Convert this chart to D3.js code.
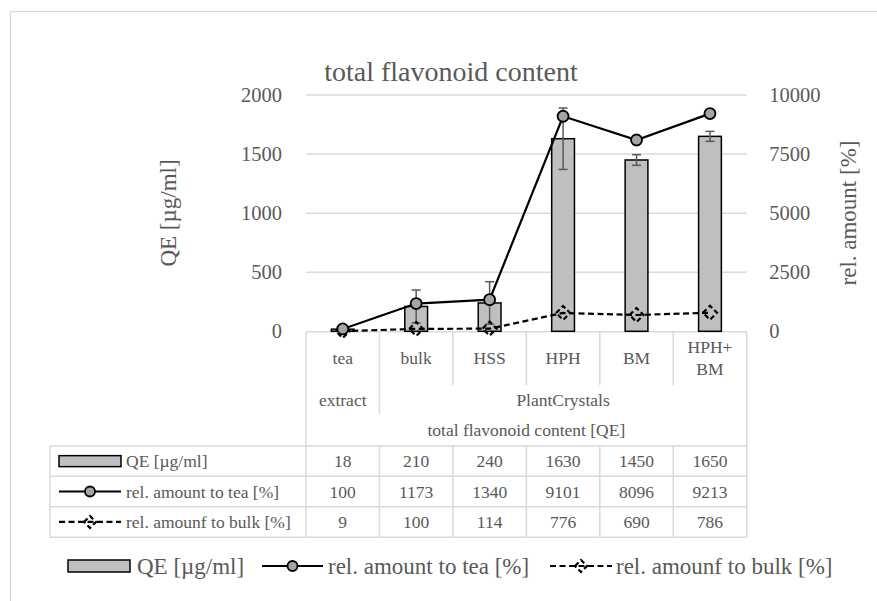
<!DOCTYPE html>
<html><head><meta charset="utf-8">
<script src="https://cdn.jsdelivr.net/npm/d3@7"></script>
<style>
html,body{margin:0;padding:0;background:#fff;}
svg{display:block;font-family:"Liberation Serif","Times New Roman",serif;}
</style></head>
<body>
<svg id="chart" width="877" height="601"></svg>
<script>
// ---- data ----
const categories = [["tea"], ["bulk"], ["HSS"], ["HPH"], ["BM"], ["HPH+", "BM"]];
const groups = [{label: "extract", span: 1}, {label: "PlantCrystals", span: 5}];
const headerLabel = "total flavonoid content [QE]";
const qe = [18, 210, 240, 1630, 1450, 1650];
const qeErr = [4, 139, 180, 260, 45, 42];
const relTea = [100, 1173, 1340, 9101, 8096, 9213];
const relBulk = [9, 100, 114, 776, 690, 786];
const leftTicks = [0, 500, 1000, 1500, 2000];
const rightTicks = [0, 2500, 5000, 7500, 10000];
const seriesNames = ["QE [\u00b5g/ml]", "rel. amount to tea [%]", "rel. amounf to bulk [%]"];
const titleText = "total flavonoid content";
const leftTitle = "QE [\u00b5g/ml]";
const rightTitle = "rel. amount [%]";

// ---- layout ----
const svg = d3.select("#chart");
const textCol = "#595959", gridCol = "#d9d9d9";
const X0 = 306, X1 = 746.7, Y0 = 331.3, Y1 = 95;
const tableLeft = 50;
const rowLines = [446, 476.3, 506.7, 537.2];

const x = d3.scaleBand().domain(d3.range(categories.length)).range([X0, X1]).padding(0);
const yL = d3.scaleLinear().domain([0, 2000]).range([Y0, Y1]);
const yR = d3.scaleLinear().domain([0, 10000]).range([Y0, Y1]);
const cx = i => x(i) + x.bandwidth() / 2;

// outer border
svg.append("rect").attr("x", 10.5).attr("y", 11.5).attr("width", 900).attr("height", 620)
  .attr("fill", "none").attr("stroke", gridCol).attr("stroke-width", 1.3);

// title
svg.append("text").attr("x", 451).attr("y", 71).attr("text-anchor", "middle").attr("dy", "0.35em")
  .attr("fill", textCol).attr("font-size", 28).text(titleText);

// gridlines
svg.append("g").selectAll("line").data(leftTicks.filter(d => d > 0)).join("line")
  .attr("x1", X0).attr("x2", X1).attr("y1", d => yL(d)).attr("y2", d => yL(d))
  .attr("stroke", gridCol).attr("stroke-width", 1.5);

// left axis
const gL = svg.append("g").attr("transform", `translate(${X0},0)`)
  .call(d3.axisLeft(yL).tickValues(leftTicks).tickSize(0).tickPadding(24).tickFormat(d3.format("d")));
gL.select(".domain").remove();
gL.selectAll("text").attr("fill", textCol).attr("font-size", 20.5).attr("font-family", "Liberation Serif");

// right axis
const gR = svg.append("g").attr("transform", `translate(${X1},0)`)
  .call(d3.axisRight(yR).tickValues(rightTicks).tickSize(0).tickPadding(22.6).tickFormat(d3.format("d")));
gR.select(".domain").remove();
gR.selectAll("text").attr("fill", textCol).attr("font-size", 20.5).attr("font-family", "Liberation Serif");

// axis titles
svg.append("text").attr("transform", `translate(168,213) rotate(-90)`).attr("text-anchor", "middle")
  .attr("dy", "0.35em").attr("fill", textCol).attr("font-size", 23).text(leftTitle);
svg.append("text").attr("transform", `translate(848,213) rotate(-90)`).attr("text-anchor", "middle")
  .attr("dy", "0.35em").attr("fill", textCol).attr("font-size", 23).text(rightTitle);

// ---- table / category axis ----
const tg = svg.append("g").attr("stroke", gridCol).attr("stroke-width", 1.5);
tg.append("line").attr("x1", X0).attr("x2", X1).attr("y1", Y0 + 0.5).attr("y2", Y0 + 0.5);
tg.append("line").attr("x1", X0).attr("x2", X0).attr("y1", Y0).attr("y2", rowLines[0]);
tg.append("line").attr("x1", X1).attr("x2", X1).attr("y1", Y0).attr("y2", rowLines[0]);
d3.range(1, categories.length).forEach(i => {
  const isGroupEdge = (i === groups[0].span);
  tg.append("line").attr("x1", x(i)).attr("x2", x(i)).attr("y1", Y0)
    .attr("y2", isGroupEdge ? 414 : 385);
});
rowLines.forEach(yy => tg.append("line").attr("x1", tableLeft).attr("x2", X1).attr("y1", yy).attr("y2", yy));
[tableLeft, X0].concat(d3.range(1, categories.length).map(i => x(i))).concat([X1]).forEach(xx =>
  tg.append("line").attr("x1", xx).attr("x2", xx).attr("y1", rowLines[0]).attr("y2", rowLines[3]));

const tfs = 17.5;
categories.forEach((lines, i) => {
  const n = lines.length;
  lines.forEach((l, j) => {
    svg.append("text").attr("x", cx(i)).attr("y", 358 + (j - (n - 1) / 2) * 21.5).attr("dy", "0.35em")
      .attr("text-anchor", "middle").attr("fill", textCol).attr("font-size", tfs).text(l);
  });
});
let gi = 0;
groups.forEach(g => {
  const xa = x(gi), xb = x(gi + g.span - 1) + x.bandwidth();
  svg.append("text").attr("x", (xa + xb) / 2).attr("y", 400).attr("dy", "0.35em")
    .attr("text-anchor", "middle").attr("fill", textCol).attr("font-size", tfs).text(g.label);
  gi += g.span;
});
svg.append("text").attr("x", (X0 + X1) / 2).attr("y", 430).attr("dy", "0.35em")
  .attr("text-anchor", "middle").attr("fill", textCol).attr("font-size", tfs).text(headerLabel);

[qe, relTea, relBulk].forEach((arr, r) => {
  const yc = (rowLines[r] + rowLines[r + 1]) / 2;
  arr.forEach((v, i) => svg.append("text").attr("x", cx(i)).attr("y", yc).attr("dy", "0.35em")
    .attr("text-anchor", "middle").attr("fill", textCol).attr("font-size", tfs).text(v));
});

// ---- marker helpers ----
const barFill = "#bfbfbf", circFill = "#a5a5a5";
const dash = "6,3.5";
function diamond(g, px, py, s) {
  g.append("path").attr("d", `M${px - s},${py} L${px},${py - s} L${px + s},${py} L${px},${py + s} Z`)
    .attr("fill", "none").attr("stroke", "#000").attr("stroke-width", 2.2).attr("stroke-dasharray", "5,3");
}
function legendKeys(g, k, x0, x1, yc, rh) {
  const xm = (x0 + x1) / 2;
  if (k === 0) {
    g.append("rect").attr("x", x0).attr("y", yc - rh / 2).attr("width", x1 - x0).attr("height", rh)
      .attr("fill", barFill).attr("stroke", "#000").attr("stroke-width", 1.5);
  } else if (k === 1) {
    g.append("line").attr("x1", x0).attr("x2", x1).attr("y1", yc).attr("y2", yc).attr("stroke", "#000").attr("stroke-width", 2.2);
    g.append("circle").attr("cx", xm).attr("cy", yc).attr("r", 5).attr("fill", circFill).attr("stroke", "#000").attr("stroke-width", 1.8);
  } else {
    g.append("line").attr("x1", x0).attr("x2", x1).attr("y1", yc).attr("y2", yc).attr("stroke", "#000")
      .attr("stroke-width", 2.2).attr("stroke-dasharray", dash);
    diamond(g, xm, yc, 6);
  }
}

const lk = svg.append("g");
seriesNames.forEach((nm, r) => {
  const yc = (rowLines[r] + rowLines[r + 1]) / 2;
  legendKeys(lk, r, 59, 121, yc, 11);
  svg.append("text").attr("x", 126).attr("y", yc).attr("dy", "0.35em").attr("fill", textCol)
    .attr("font-size", tfs).text(nm);
});

// ---- bars ----
const bw = x.bandwidth() * 0.31;
svg.append("g").selectAll("rect").data(qe).join("rect")
  .attr("x", (d, i) => cx(i) - bw / 2).attr("width", bw)
  .attr("y", d => yL(d)).attr("height", d => Y0 - yL(d))
  .attr("fill", barFill).attr("stroke", "#000").attr("stroke-width", 1.5);

const eg = svg.append("g").attr("stroke", "#595959").attr("stroke-width", 1.5);
qe.forEach((v, i) => {
  const lo = yL(Math.max(0, v - qeErr[i])), hi = yL(v + qeErr[i]);
  eg.append("line").attr("x1", cx(i)).attr("x2", cx(i)).attr("y1", lo).attr("y2", hi);
  eg.append("line").attr("x1", cx(i) - 4.5).attr("x2", cx(i) + 4.5).attr("y1", lo).attr("y2", lo);
  eg.append("line").attr("x1", cx(i) - 4.5).attr("x2", cx(i) + 4.5).attr("y1", hi).attr("y2", hi);
});

const lineR = d3.line().x((d, i) => cx(i)).y(d => yR(d));
svg.append("path").datum(relBulk).attr("d", lineR).attr("fill", "none").attr("stroke", "#000")
  .attr("stroke-width", 2.2).attr("stroke-dasharray", dash);
const dg = svg.append("g");
relBulk.forEach((v, i) => diamond(dg, cx(i), yR(v), 7));

svg.append("path").datum(relTea).attr("d", lineR).attr("fill", "none").attr("stroke", "#000").attr("stroke-width", 2.2);
svg.append("g").selectAll("circle").data(relTea).join("circle")
  .attr("cx", (d, i) => cx(i)).attr("cy", d => yR(d)).attr("r", 5.5)
  .attr("fill", circFill).attr("stroke", "#000").attr("stroke-width", 1.8);

// ---- bottom legend ----
const lg = svg.append("g");
const legY = 566;
const legItems = [{k: 0, x0: 68, x1: 130, tx: 137}, {k: 1, x0: 262, x1: 323, tx: 328}, {k: 2, x0: 550, x1: 612, tx: 616}];
legItems.forEach(it => {
  legendKeys(lg, it.k, it.x0, it.x1, legY, 12);
  lg.append("text").attr("x", it.tx).attr("y", legY).attr("dy", "0.35em").attr("fill", textCol)
    .attr("font-size", 23).text(seriesNames[it.k]);
});
</script>
</body></html>
